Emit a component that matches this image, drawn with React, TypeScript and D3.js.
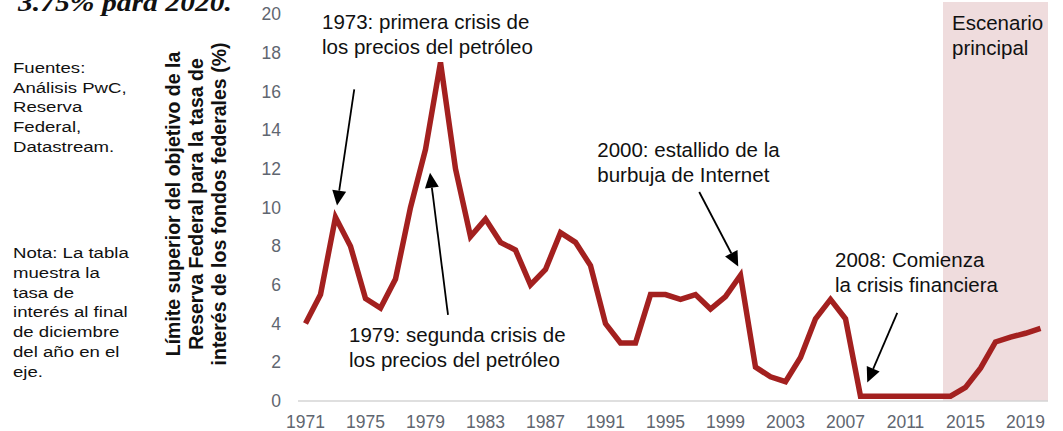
import * as d3 from 'd3';

const years = [
  1971, 1972, 1973, 1974, 1975, 1976, 1977, 1978, 1979, 1980,
  1981, 1982, 1983, 1984, 1985, 1986, 1987, 1988, 1989, 1990,
  1991, 1992, 1993, 1994, 1995, 1996, 1997, 1998, 1999, 2000,
  2001, 2002, 2003, 2004, 2005, 2006, 2007, 2008, 2009, 2010,
  2011, 2012, 2013, 2014, 2015, 2016, 2017, 2018, 2019, 2020,
];

// upper bound of fed funds target, end of December (%)
const rates = [
  4.0, 5.5, 9.5, 8.0, 5.3, 4.8, 6.3, 10.0, 13.0, 17.5,
  12.0, 8.5, 9.4, 8.2, 7.8, 6.0, 6.8, 8.7, 8.2, 7.0,
  4.0, 3.0, 3.0, 5.5, 5.5, 5.25, 5.5, 4.75, 5.4, 6.5,
  1.75, 1.25, 1.0, 2.25, 4.25, 5.25, 4.25, 0.25, 0.25, 0.25,
  0.25, 0.25, 0.25, 0.25, 0.7, 1.7, 3.05, 3.3, 3.5, 3.75,
];

const yTicks = [0, 2, 4, 6, 8, 10, 12, 14, 16, 18, 20];
const xTickYears = [1971, 1975, 1979, 1983, 1987, 1991, 1995, 1999, 2003, 2007, 2011, 2015, 2019];
const scenarioStart = 2014;

const sourceLines = ['Fuentes:', 'Análisis PwC,', 'Reserva', 'Federal,', 'Datastream.'];
const noteLines = ['Nota: La tabla', 'muestra la', 'tasa de', 'interés al final', 'de diciembre', 'del año en el', 'eje.'];
const yTitleLines = [
  'Límite superior del objetivo de la',
  'Reserva Federal para la tasa de',
  'interés de los fondos federales (%)',
];

// annotations in data space: text anchor (year, value), arrow tail -> tip
const annotations = [
  { lines: ['1973: primera crisis de', 'los precios del petróleo'], at: [1972.1, 19.2], from: [1974.25, 16.1], to: [1973.1, 10.1] },
  { lines: ['1979: segunda crisis de', 'los precios del petróleo'], at: [1973.9, 3.05], from: [1980.5, 4.45], to: [1979.3, 11.8] },
  { lines: ['2000: estallido de la', 'burbuja de Internet'], at: [1990.45, 12.6], from: [1997.25, 10.8], to: [1999.85, 6.95] },
  { lines: ['2008: Comienza', 'la crisis financiera'], at: [2006.3, 6.9], from: [2010.45, 4.55], to: [2008.45, 0.95] },
];

const W = 1063;
const H = 431;
const red = '#a3201f';
const sans = '"Liberation Sans", Arial, sans-serif';

export default function App() {
  const x = d3.scaleBand<number>().domain(years).range([298, 1048]);
  const bw = x.bandwidth();
  const xc = (yr: number) => (x(years[0]) as number) + bw / 2 + (yr - years[0]) * bw;
  const y = d3.scaleLinear().domain([0, 20]).range([401, 14]);

  const line = d3
    .line<number>()
    .x((_, i) => (x(years[i]) as number) + bw / 2)
    .y((d) => y(d));

  const shadeX = x(scenarioStart) as number;

  const arrow = (a: typeof annotations[0]) => {
    const x1 = xc(a.from[0]);
    const y1 = y(a.from[1]);
    const x2 = xc(a.to[0]);
    const y2 = y(a.to[1]);
    const ang = Math.atan2(y2 - y1, x2 - x1);
    const len = 15;
    const half = 7;
    const bx = x2 - len * Math.cos(ang);
    const by = y2 - len * Math.sin(ang);
    const px = -Math.sin(ang) * half;
    const py = Math.cos(ang) * half;
    return (
      <g>
        <line x1={x1} y1={y1} x2={bx} y2={by} stroke="#000" strokeWidth={1.8} />
        <path d={`M${x2},${y2}L${bx + px},${by + py}L${bx - px},${by - py}Z`} fill="#000" />
      </g>
    );
  };

  return (
    <svg width={W} height={H} style={{ position: 'absolute', left: 0, top: 0, background: '#fff' }}>
      {/* cropped title from the page above */}
      <text x={18} y={11} fontFamily='"Liberation Serif", serif' fontWeight="bold" fontStyle="italic" fontSize={26} textLength={214} lengthAdjust="spacingAndGlyphs" fill="#111">
        3.75% para 2020.
      </text>

      {/* scenario shading */}
      <rect x={shadeX} y={2} width={1048 - shadeX} height={y(0) - 2} fill="#efdcdd" />

      {/* left notes */}
      <g fontFamily={sans} fontSize={15.5} fill="#111" transform="translate(13,0) scale(1.2,1)">
        {sourceLines.map((t, i) => (
          <text key={t} x={0} y={73 + i * 19.7}>{t}</text>
        ))}
        {noteLines.map((t, i) => (
          <text key={t} x={0} y={258 + i * 19.8}>{t}</text>
        ))}
      </g>

      {/* y axis title */}
      <g fontFamily={sans} fontSize={19.5} fontWeight="bold" fill="#111">
        {yTitleLines.map((t, i) => (
          <text key={t} transform={`translate(${180 + i * 23},${204}) rotate(-90)`} textAnchor="middle">{t}</text>
        ))}
      </g>

      {/* y tick labels */}
      <g fontFamily={sans} fontSize={17.5} fill="#5f6670" textAnchor="end">
        {yTicks.map((v) => (
          <text key={v} x={281} y={y(v)} dy="0.35em">{v}</text>
        ))}
      </g>

      {/* baseline */}
      <line x1={298} x2={1048} y1={y(0)} y2={y(0)} stroke="#d4d4d4" strokeWidth={1.5} />

      {/* x tick labels */}
      <g fontFamily={sans} fontSize={17.5} fill="#5f6670" textAnchor="middle">
        {xTickYears.map((yr) => (
          <text key={yr} x={(x(yr) as number) + bw / 2} y={428}>{yr}</text>
        ))}
      </g>

      {/* series */}
      <path d={line(rates) as string} fill="none" stroke={red} strokeWidth={5.5} />

      {/* annotations */}
      <g fontFamily={sans} fontSize={20.5} fill="#111">
        {annotations.map((a) => (
          <g key={a.lines[0]}>
            {a.lines.map((t, i) => (
              <text key={t} x={xc(a.at[0])} y={y(a.at[1]) + i * 25}>{t}</text>
            ))}
            {arrow(a)}
          </g>
        ))}
        <text x={952} y={30}>Escenario</text>
        <text x={952} y={55}>principal</text>
      </g>
    </svg>
  );
}
